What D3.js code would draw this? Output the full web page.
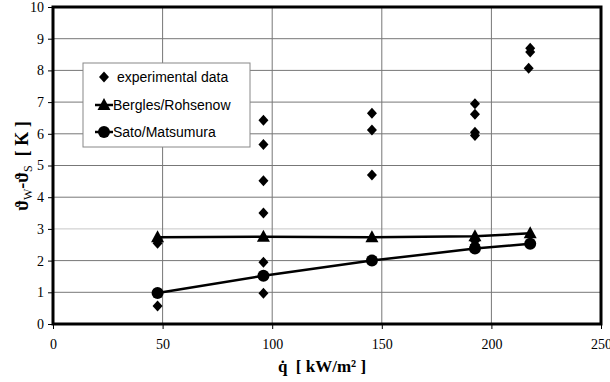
<!DOCTYPE html>
<html><head><meta charset="utf-8">
<script src="https://cdn.jsdelivr.net/npm/d3@7"></script>
<style>body{margin:0;background:#fff}svg{display:block}</style>
</head><body>
<script>
// ---- data ----
const expX = [47.7, 47.7, 96, 96, 96, 96, 96, 96, 145.5, 145.5, 145.5, 192.5, 192.5, 192.5, 192.5, 192.5, 192.5, 217.7, 217.7, 217];
const expY = [0.57, 2.55, 6.43, 5.66, 4.52, 3.5, 1.95, 0.97, 6.65, 6.12, 4.7, 6.95, 6.62, 6.05, 5.95, 2.62, 2.5, 8.7, 8.58, 8.07];
const modelX = [47.7, 96, 145.5, 192.5, 217.7];
const berglesY = [2.74, 2.75, 2.74, 2.77, 2.86];
const satoY = [0.98, 1.52, 2.0, 2.38, 2.53];
const xTicks = [0, 50, 100, 150, 200, 250];
const yTicks = [0, 1, 2, 3, 4, 5, 6, 7, 8, 9, 10];
const legendLabels = ["experimental data", "Bergles/Rohsenow", "Sato/Matsumura"];

const W = 610, H = 382;
const m = {l: 53, r: 9, t: 7, b: 58};
const SERIF = "Liberation Serif, Times New Roman, Times, DejaVu Serif, serif";
const SANS = "Liberation Sans, Arial, Helvetica, sans-serif";
const svg = d3.select("body").append("svg").attr("width", W).attr("height", H);
const x = d3.scaleLinear().domain([0, 250]).range([m.l, W - m.r]);
const y = d3.scaleLinear().domain([0, 10]).range([H - m.b, m.t]);

// grid
svg.append("g").selectAll("line.h").data(yTicks).join("line")
  .attr("x1", x(0)).attr("x2", x(250)).attr("y1", d => y(d)).attr("y2", d => y(d))
  .attr("stroke", d => d === 3 ? "#c8c8c8" : "#777").attr("stroke-width", 1);
svg.append("g").selectAll("line.v").data(xTicks).join("line")
  .attr("y1", y(0)).attr("y2", y(10)).attr("x1", d => x(d)).attr("x2", d => x(d))
  .attr("stroke", "#777").attr("stroke-width", 1);

// axes
const yAxis = svg.append("g").attr("transform", `translate(${m.l},0)`)
  .call(d3.axisLeft(y).tickValues(yTicks).tickSize(5).tickPadding(4));
const xAxis = svg.append("g").attr("transform", `translate(0,${H - m.b})`)
  .call(d3.axisBottom(x).tickValues(xTicks).tickSize(5).tickPadding(10));
[yAxis, xAxis].forEach(g => {
  g.attr("font-family", SERIF).attr("font-size", 14);
  g.select(".domain").remove();
  g.selectAll("line").attr("stroke", "#000");
  g.selectAll("text").style("font-family", SERIF).style("font-size", "14px").attr("fill", "#000");
});

// frame
svg.append("rect").attr("x", x(0)).attr("y", y(10)).attr("width", x(250) - x(0)).attr("height", y(0) - y(10))
  .attr("fill", "none").attr("stroke", "#000").attr("stroke-width", 3);

// lines
const line = d3.line().x(d => x(d[0])).y(d => y(d[1]));
svg.append("path").datum(modelX.map((v, i) => [v, berglesY[i]])).attr("d", line)
  .attr("fill", "none").attr("stroke", "#000").attr("stroke-width", 2.5);
svg.append("path").datum(modelX.map((v, i) => [v, satoY[i]])).attr("d", line)
  .attr("fill", "none").attr("stroke", "#000").attr("stroke-width", 2.5);

const diamond = "M0,-5.5L5,0L0,5.5L-5,0Z";
const triangle = "M0,-7L6.5,5L-6.5,5Z";

svg.append("g").selectAll("path").data(expX.map((v, i) => [v, expY[i]])).join("path")
  .attr("d", diamond).attr("transform", d => `translate(${x(d[0])},${y(d[1])})`).attr("fill", "#000");
svg.append("g").selectAll("path").data(modelX.map((v, i) => [v, berglesY[i]])).join("path")
  .attr("d", triangle).attr("transform", d => `translate(${x(d[0])},${y(d[1])})`).attr("fill", "#000");
svg.append("g").selectAll("circle").data(modelX.map((v, i) => [v, satoY[i]])).join("circle")
  .attr("cx", d => x(d[0])).attr("cy", d => y(d[1])).attr("r", 6).attr("fill", "#000");

// legend
const lg = svg.append("g");
lg.append("rect").attr("x", 83).attr("y", 63).attr("width", 167).attr("height", 84)
  .attr("fill", "#fff").attr("stroke", "#888").attr("stroke-width", 1);
const ly = [77, 105, 132];
legendLabels.forEach((t, i) => {
  const g = lg.append("g").attr("transform", `translate(104,${ly[i]})`);
  if (i === 0) g.append("path").attr("d", diamond).attr("fill", "#000");
  if (i > 0) g.append("line").attr("x1", -9).attr("x2", 9).attr("stroke", "#000").attr("stroke-width", 2.5);
  if (i === 1) g.append("path").attr("d", triangle).attr("fill", "#000");
  if (i === 2) g.append("circle").attr("r", 6).attr("fill", "#000");
  lg.append("text").attr("x", i === 0 ? 117 : 113).attr("y", ly[i]).attr("dy", "0.35em")
    .style("font-family", SANS).style("font-size", "14px").text(t);
});

// axis titles
const yt = svg.append("text").attr("transform", "translate(28,166) rotate(-90)")
  .attr("text-anchor", "middle").style("font-family", SERIF).style("font-size", "18px").style("font-weight", "bold");
yt.append("tspan").text("ϑ");
yt.append("tspan").style("font-size", "12px").attr("dy", 4).style("font-weight", "normal").text("W");
yt.append("tspan").attr("dy", -4).text("-ϑ");
yt.append("tspan").style("font-size", "12px").attr("dy", 4).style("font-weight", "normal").text("S");
yt.append("tspan").attr("dy", -4).style("white-space", "pre").text("  [ K ]");

svg.append("text").attr("x", 322).attr("y", 372).attr("text-anchor", "middle")
  .style("font-family", SERIF).style("font-size", "17px").style("font-weight", "bold").style("white-space", "pre")
  .text("q\u0307  [ kW/m² ]");
</script>
</body></html>
